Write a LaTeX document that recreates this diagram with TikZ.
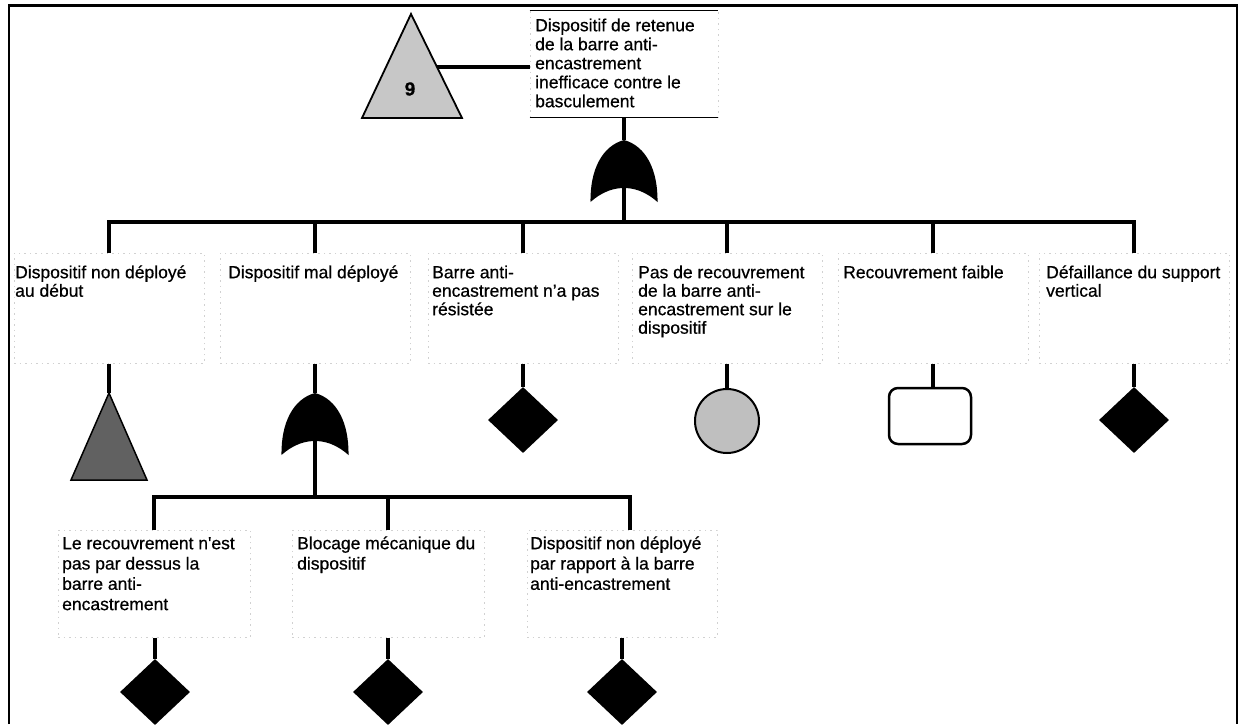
\documentclass[tikz,border=0pt]{standalone}
\usepackage{fontspec}
\setmainfont{Liberation Sans}[FakeBold=0.6]
\newfontfamily\plainapos{Liberation Sans}[FakeBold=0.6]
\usetikzlibrary{shapes.geometric}
\begin{document}
\begin{tikzpicture}[x=1pt,y=-1pt,
  conn/.style={line width=3.2pt},
  faintbox/.style={draw=black!18, dash pattern=on 1.5pt off 4pt, line width=0.7pt,
    minimum width=190pt, inner sep=0pt, anchor=north},
  txt/.style={anchor=north west, inner sep=0pt, align=left,
    font={\fontsize{17.5}{18.5}\selectfont}},
  txtb/.style={txt, font={\fontsize{17.5}{20.3}\selectfont}},
  basic/.style={diamond, fill=black, minimum width=70pt, minimum height=66pt, inner sep=0pt},
  orgate/.pic={\fill[black] (0,0) .. controls (-22,6) and (-34,30) .. (-33.5,62)
      .. controls (-20,50) and (-8,48) .. (0,48) .. controls (8,48) and (20,50) .. (33.5,62)
      .. controls (34,30) and (22,6) .. (0,0) -- cycle;
    \coordinate (-in) at (0,0); \coordinate (-out) at (0,48);}
]
\useasboundingbox (0,0) rectangle (1243,724);
\fill[white] (0,0) rectangle (1243,724);
% frame
\draw[line width=2.5pt] (9,724) -- (9,5.5) -- (1237,5.5) -- (1237,724);

% ---------- top event ----------
\node[faintbox, minimum width=188pt, minimum height=107pt] (top) at (624,10) {};
\draw[line width=0.8pt] (top.north west) -- (top.north east);
\draw[line width=1pt] (top.south west) -- (top.south east);
\node[txt, font={\fontsize{17.5}{19}\selectfont}] (ttop) at (535,15) {\rule{0pt}{16pt}Dispositif de retenue\\de la barre anti-\\encastrement\\inefficace contre le\\basculement};

% transfer triangle
\draw[line width=1.8pt, fill=black!22] (411,14) -- (462,118) -- (362,118) -- cycle;
\node[font={\bfseries\fontsize{19}{19}\selectfont}] (nine) at (410,89) {9};
\coordinate (trr) at (437,67);
\draw[line width=3.6pt] (trr) -- (trr -| top.west);

% top OR gate
\pic (g0) at (624,140) {orgate};
\draw[conn] (top.south) -- (g0-in);
\coordinate (bar) at (624,222);
\draw[conn] (g0-out) -- (bar);

% ---------- level 1 boxes ----------
\node[faintbox, minimum height=110pt] (b1) at (109,253) {};
\node[faintbox, minimum height=110pt] (b2) at (315,253) {};
\node[faintbox, minimum height=110pt] (b3) at (523,253) {};
\node[faintbox, minimum height=110pt] (b4) at (727,253) {};
\node[faintbox, minimum height=110pt] (b5) at (933,253) {};
\node[faintbox, minimum height=110pt] (b6) at (1134,253) {};

\node[txt] (t1) at (15,262) {\rule{0pt}{16pt}Dispositif non déployé\\au début};
\node[txt] (t2) at (228,262) {\rule{0pt}{16pt}Dispositif mal déployé};
\node[txt] (t3) at (432,262) {\rule{0pt}{16pt}Barre anti-\\encastrement n’a pas\\résistée};
\node[txt] (t4) at (638,262) {\rule{0pt}{16pt}Pas de recouvrement\\de la barre anti-\\encastrement sur le\\dispositif};
\node[txt] (t5) at (843,262) {\rule{0pt}{16pt}Recouvrement faible};
\node[txt] (t6) at (1046,262) {\rule{0pt}{16pt}Défaillance du support\\vertical};

\draw[conn] (b1.north) -- (b1.north |- bar) -- (b6.north |- bar) -- (b6.north);
\foreach \b in {b2,b3,b4,b5}{\draw[conn] (\b.north) -- (\b.north |- bar);}

% level 1 symbols
\coordinate (tri1) at (109,393);
\draw[line width=1.5pt, fill=black!62] (tri1) -- (147,480) -- (71,480) -- cycle;
\draw[conn] (b1.south) -- (tri1);

\pic (g2) at (315,393) {orgate};
\draw[conn] (b2.south) -- (g2-in);

\node[basic] (d3) at (523,420) {};
\draw[conn] (b3.south) -- (d3.north);

\node[circle, draw, line width=2pt, fill=black!25, minimum size=64pt, inner sep=0pt] (c4) at (727,421) {};
\draw[conn] (b4.south) -- (c4.north);

\node[draw, rounded corners=9pt, line width=2.5pt, minimum width=82pt, minimum height=56pt, inner sep=0pt] (r5) at (930,416) {};
\draw[conn] (b5.south) -- (r5.north -| b5.south);

\node[basic] (d6) at (1134,420) {};
\draw[conn] (b6.south) -- (d6.north);

% ---------- level 2 ----------
\node[faintbox, minimum width=192pt, minimum height=107pt] (c1) at (154,530) {};
\node[faintbox, minimum width=192pt, minimum height=107pt] (c2) at (388,530) {};
\node[faintbox, minimum width=190pt, minimum height=107pt] (c3) at (622,530) {};

\node[txtb] (u1) at (62,533) {\rule{0pt}{16pt}Le recouvrement n{\plainapos '}est\\pas par dessus la\\barre anti-\\encastrement};
\node[txtb] (u2) at (297,533) {\rule{0pt}{16pt}Blocage mécanique du\\dispositif};
\node[txtb] (u3) at (530,533) {\rule{0pt}{16pt}Dispositif non déployé\\par rapport à la barre\\anti-encastrement};

\coordinate (bar2) at (315,497);
\coordinate (c3in) at (630,530);
\draw[conn] (g2-out) -- (bar2);
\draw[conn] (c1.north) -- (c1.north |- bar2) -- (c3in |- bar2) -- (c3in);
\draw[conn] (c2.north) -- (c2.north |- bar2);

\node[basic] (e1) at (155,692) {};
\node[basic] (e2) at (388,692) {};
\node[basic] (e3) at (622,692) {};
\draw[conn] (c1.south -| e1) -- (e1.north);
\draw[conn] (c2.south) -- (e2.north);
\draw[conn] (c3.south) -- (e3.north);
\end{tikzpicture}
\end{document}
